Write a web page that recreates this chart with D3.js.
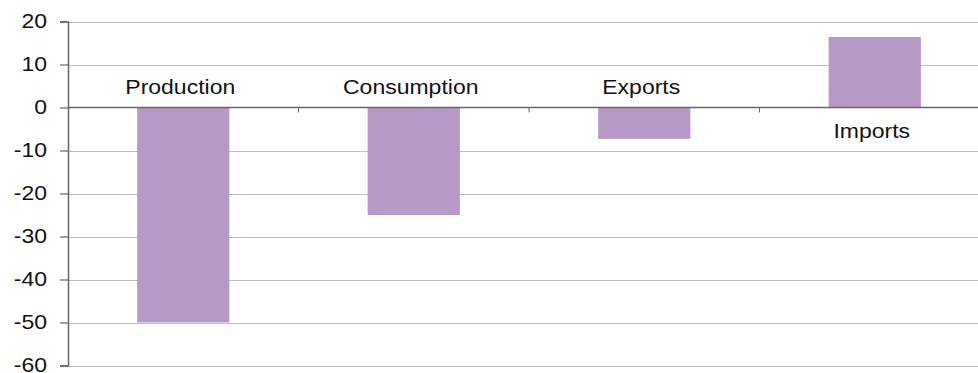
<!DOCTYPE html>
<html>
<head>
<meta charset="utf-8">
<script src="https://cdn.jsdelivr.net/npm/d3@7"></script>
<style>
  body { margin: 0; background: #fff; }
  text { font-family: "Liberation Sans", Arial, sans-serif; fill: #111; }
</style>
</head>
<body>
<div id="chart"></div>
<script>
// chart data
var categories = ["Production", "Consumption", "Exports", "Imports"];
var values = [-50, -25, -7.3, 16.4];
var yTicks = [20, 10, 0, -10, -20, -30, -40, -50, -60];

var width = 978, height = 373;
var margin = {top: 21.5, left: 68, right: -12, bottom: 7.5};

var svg = d3.select("#chart")
  .append("svg")
    .attr("width", width)
    .attr("height", height);

var x = d3.scaleBand()
  .domain(categories)
  .range([margin.left, width - margin.right])
  .paddingInner(0.6)
  .paddingOuter(0.3);

var y = d3.scaleLinear()
  .domain([-60, 20])
  .range([height - margin.bottom, margin.top]);

// gridlines
svg.append("g")
  .selectAll("line")
  .data(yTicks.filter(function(d){ return d !== 0; }))
  .enter()
  .append("line")
    .attr("x1", margin.left)
    .attr("x2", width)
    .attr("y1", function(d){ return Math.round(y(d)) + 0.5; })
    .attr("y2", function(d){ return Math.round(y(d)) + 0.5; })
    .attr("stroke", "#bdbdbd")
    .attr("stroke-width", 1.2);

// bars
svg.append("g")
  .selectAll("rect")
  .data(values)
  .enter()
  .append("rect")
    .attr("x", function(d, i){ return x(categories[i]); })
    .attr("width", x.bandwidth())
    .attr("y", function(d){ return y(Math.max(0, d)); })
    .attr("height", function(d){ return Math.abs(y(d) - y(0)); })
    .attr("fill", "#b799c7");

// y axis
var yAxis = d3.axisLeft(y)
  .tickValues(yTicks)
  .tickSize(8)
  .tickPadding(13)
  .tickFormat(function(d){ return String(d); }); // plain hyphen like the reference

var ga = svg.append("g")
  .attr("transform", "translate(" + margin.left + ",0)")
  .call(yAxis);
ga.select(".domain").attr("stroke", "#666").attr("stroke-width", 1.5);
ga.selectAll(".tick line").attr("stroke", "#666").attr("stroke-width", 1.2);
ga.selectAll(".tick text")
  .attr("font-size", 20)
  .attr("font-family", "Liberation Sans, Arial, sans-serif")
  .attr("fill", "#111")
  .attr("dy", "0.28em")
  .attr("transform", function(){
    // text in the reference is a bit wider than the font
    return "translate(-21,0) scale(1.15,1) translate(21,0)";
  });

// zero line with category ticks
var catEdges = categories.slice(1).map(function(c){ return x(c) - x.step() * x.paddingInner() / 2; });
svg.append("line")
  .attr("x1", margin.left)
  .attr("x2", width)
  .attr("y1", y(0))
  .attr("y2", y(0))
  .attr("stroke", "#666")
  .attr("stroke-width", 1.6);
svg.append("g")
  .selectAll("line")
  .data(catEdges)
  .enter()
  .append("line")
    .attr("x1", function(d){ return d; })
    .attr("x2", function(d){ return d; })
    .attr("y1", y(0))
    .attr("y2", y(0) + 5)
    .attr("stroke", "#666")
    .attr("stroke-width", 1);

// category labels, above the zero line for negative bars, below for positive
svg.append("g")
  .selectAll("text")
  .data(values)
  .enter()
  .append("text")
    .attr("text-anchor", "middle")
    .attr("font-size", 20)
    .attr("transform", function(d, i){
      var cx = x(categories[i]) + x.bandwidth() / 2 - 3;
      var cy = d < 0 ? y(0) - 13.5 : y(0) + 30.5;
      return "translate(" + cx + "," + cy + ") scale(1.15,1)";
    })
    .text(function(d, i){ return categories[i]; });
</script>
</body>
</html>
